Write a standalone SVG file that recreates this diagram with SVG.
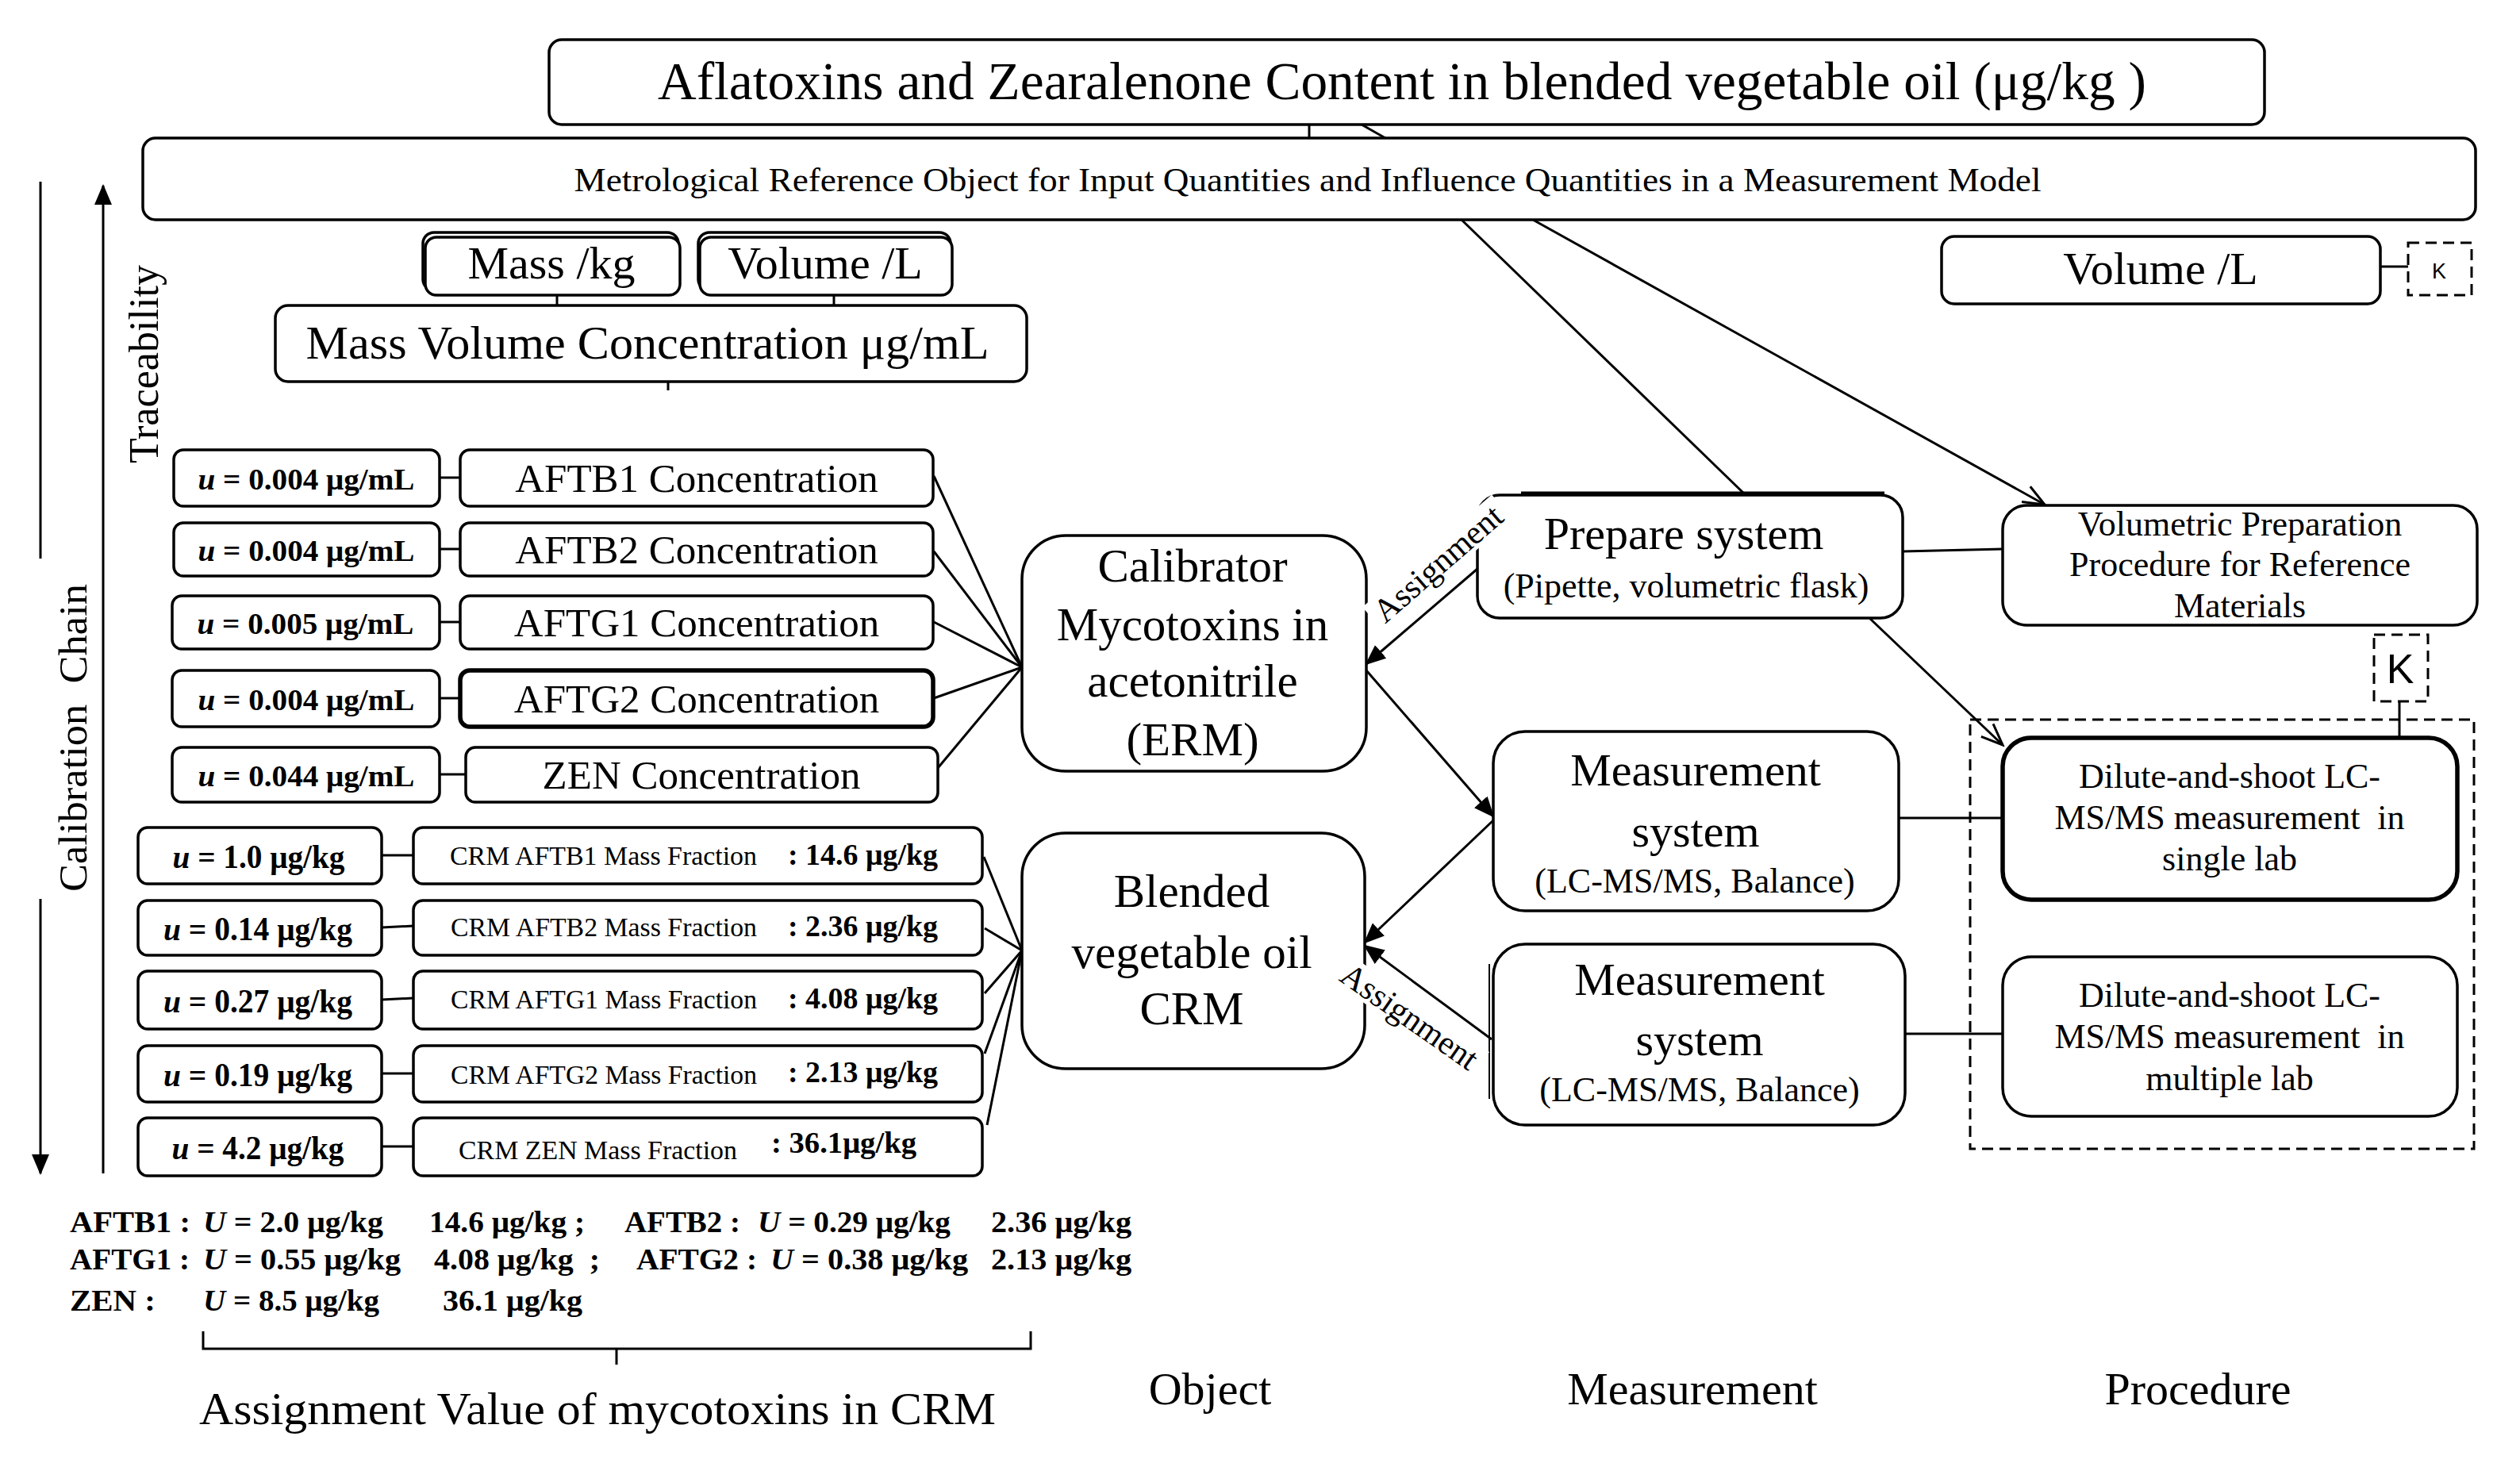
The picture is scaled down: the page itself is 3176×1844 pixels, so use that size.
<svg xmlns="http://www.w3.org/2000/svg" width="3176" height="1844" viewBox="0 0 3176 1844">
<style>
text{font-family:"Liberation Serif","Times New Roman",serif;fill:#000}
.box{fill:#fff;stroke:#000;stroke-width:3.5}
.thick{stroke-width:5.5}
.ln{stroke:#000;stroke-width:3;fill:none}
.dash{fill:none;stroke:#000;stroke-width:3;stroke-dasharray:14 8}
.b{font-weight:bold}
.i{font-style:italic}
.sans{font-family:"Liberation Sans",Arial,sans-serif}
.m{text-anchor:middle}
.bg{fill:#fff;stroke:none}
</style>
<defs>
<marker id="af" markerUnits="userSpaceOnUse" markerWidth="26" markerHeight="22" refX="24" refY="11" orient="auto"><path d="M0,0 L26,11 L0,22 z" fill="#000"/></marker>
<marker id="ao" markerUnits="userSpaceOnUse" markerWidth="32" markerHeight="26" refX="29" refY="13" orient="auto"><path d="M2,2 L29,13 L2,24" fill="none" stroke="#000" stroke-width="3"/></marker>
</defs>
<rect width="3176" height="1844" fill="#fff"/>

<g id="connectors">
<line class="ln" x1="1650" y1="157" x2="1650" y2="174" stroke-width="2"/>
<line class="ln" x1="1716" y1="157" x2="1746" y2="174" stroke-width="5"/>
<line class="ln" x1="702" y1="372" x2="702" y2="385" stroke-width="2"/>
<line class="ln" x1="1051" y1="372" x2="1051" y2="385" stroke-width="2"/>
<line class="ln" x1="842" y1="481" x2="842" y2="492" stroke-width="2"/>
<line class="ln" x1="1842" y1="277" x2="2198" y2="622"/>
<line class="ln" x1="1932" y1="277" x2="2577" y2="636" marker-end="url(#ao)"/>
<line class="ln" x1="3000" y1="336" x2="3035" y2="336" stroke-width="5"/>
<line class="ln" x1="554" y1="602" x2="580" y2="602"/>
<line class="ln" x1="554" y1="692" x2="580" y2="692" stroke="#4472C4"/>
<line class="ln" x1="554" y1="784" x2="580" y2="784"/>
<line class="ln" x1="554" y1="880" x2="580" y2="880"/>
<line class="ln" x1="554" y1="976" x2="587" y2="976"/>
<line class="ln" x1="481" y1="1078" x2="521" y2="1078"/>
<line class="ln" x1="481" y1="1169" x2="521" y2="1167"/>
<line class="ln" x1="481" y1="1260" x2="521" y2="1258"/>
<line class="ln" x1="481" y1="1353" x2="521" y2="1353"/>
<line class="ln" x1="481" y1="1445" x2="521" y2="1445"/>
<line class="ln" x1="1177" y1="600" x2="1288" y2="841"/>
<line class="ln" x1="1177" y1="695" x2="1288" y2="841"/>
<line class="ln" x1="1177" y1="784" x2="1288" y2="841"/>
<line class="ln" x1="1177" y1="880" x2="1288" y2="841"/>
<line class="ln" x1="1182" y1="968" x2="1288" y2="841"/>
<line class="ln" x1="1240" y1="1080" x2="1288" y2="1198"/>
<line class="ln" x1="1241" y1="1170" x2="1288" y2="1198"/>
<line class="ln" x1="1241" y1="1252" x2="1288" y2="1198"/>
<line class="ln" x1="1241" y1="1328" x2="1288" y2="1198"/>
<line class="ln" x1="1244" y1="1418" x2="1288" y2="1198"/>
<line class="ln" x1="1862" y1="717" x2="1722" y2="837" marker-end="url(#af)"/>
<line class="ln" x1="1722" y1="845" x2="1882" y2="1029" marker-end="url(#af)"/>
<line class="ln" x1="1882" y1="1034" x2="1720" y2="1188" marker-end="url(#af)"/>
<line class="ln" x1="1880" y1="1310" x2="1720" y2="1192" marker-end="url(#af)"/>
<line class="ln" x1="2398" y1="695" x2="2524" y2="692"/>
<line class="ln" x1="2355" y1="778" x2="2524" y2="939" marker-end="url(#ao)"/>
<line class="ln" x1="2393" y1="1031" x2="2524" y2="1031"/>
<line class="ln" x1="2401" y1="1303" x2="2524" y2="1303"/>
<line class="ln" x1="3024" y1="884" x2="3024" y2="930"/>
<line class="ln" x1="51" y1="229" x2="51" y2="704" stroke-width="3.5"/>
<line class="ln" x1="51" y1="1133" x2="51" y2="1479" stroke-width="3.5" marker-end="url(#af)"/>
<line class="ln" x1="130" y1="1479" x2="130" y2="234" stroke-width="3.5" marker-end="url(#af)"/>
</g>

<g id="axis-labels">
<text transform="translate(109,930) rotate(-90)" font-size="51" class="m" textLength="388" lengthAdjust="spacingAndGlyphs">Calibration&#160; Chain</text>
<text transform="translate(199,459) rotate(-90)" font-size="52" class="m" textLength="250" lengthAdjust="spacingAndGlyphs">Traceability</text>
</g>

<g id="title">
<rect class="box" x="692" y="50" width="2162" height="107" rx="16" stroke-width="4.5"/>
<text x="1767" y="125" font-size="67" class="m" textLength="1876" lengthAdjust="spacingAndGlyphs">Aflatoxins and Zearalenone Content in blended vegetable oil (μg/kg )</text>
</g>

<g id="metrological">
<rect class="box" x="180" y="174" width="2940" height="103" rx="16" stroke-width="4.5"/>
<text x="1648" y="241" font-size="42" class="m" textLength="1849" lengthAdjust="spacingAndGlyphs">Metrological Reference Object for Input Quantities and Influence Quantities in a Measurement Model</text>
</g>

<g id="mass">
<rect class="box" x="533" y="293" width="322" height="73" rx="14"/>
<rect class="box" x="536" y="299" width="321" height="73" rx="14"/>
<text x="695" y="351" font-size="58" class="m">Mass /kg</text>
</g>

<g id="volume-left">
<rect class="box" x="880" y="293" width="318" height="73" rx="14"/>
<rect class="box" x="882" y="299" width="318" height="73" rx="14"/>
<text x="1040" y="351" font-size="58" class="m">Volume /L</text>
</g>

<g id="mvc">
<rect class="box" x="347" y="385" width="947" height="96" rx="16"/>
<text x="816" y="452" font-size="59" class="m" textLength="861" lengthAdjust="spacingAndGlyphs">Mass Volume Concentration μg/mL</text>
</g>

<g id="volume-right">
<rect class="box" x="2447" y="298" width="553" height="85" rx="16" stroke-width="4.5"/>
<text x="2723" y="358" font-size="58" class="m">Volume /L</text>
</g>

<g id="k-top">
<rect class="dash" x="3035" y="306" width="80" height="66" stroke-dasharray="8 5"/>
<text x="3074" y="351" font-size="27" class="m sans">K</text>
</g>

<g id="u-aftb1"><rect class="box" x="219" y="567" width="335" height="71" rx="12"/><text class="b m" x="386" y="617" font-size="38" textLength="273" lengthAdjust="spacingAndGlyphs"><tspan class="i">u</tspan> = 0.004 μg/mL</text></g>
<g id="u-aftb2"><rect class="box" x="219" y="659" width="335" height="67" rx="12"/><text class="b m" x="386" y="707" font-size="38" textLength="273" lengthAdjust="spacingAndGlyphs"><tspan class="i">u</tspan> = 0.004 μg/mL</text></g>
<g id="u-aftg1"><rect class="box" x="217" y="751" width="337" height="67" rx="12"/><text class="b m" x="385" y="799" font-size="38" textLength="273" lengthAdjust="spacingAndGlyphs"><tspan class="i">u</tspan> = 0.005 μg/mL</text></g>
<g id="u-aftg2"><rect class="box" x="217" y="845" width="337" height="71" rx="12"/><text class="b m" x="386" y="895" font-size="38" textLength="273" lengthAdjust="spacingAndGlyphs"><tspan class="i">u</tspan> = 0.004 μg/mL</text></g>
<g id="u-zen"><rect class="box" x="217" y="942" width="337" height="69" rx="12"/><text class="b m" x="386" y="991" font-size="38" textLength="273" lengthAdjust="spacingAndGlyphs"><tspan class="i">u</tspan> = 0.044 μg/mL</text></g>

<g id="c-aftb1"><rect class="box" x="580" y="567" width="596" height="71" rx="12"/><text class="m" x="878" y="620" font-size="51">AFTB1 Concentration</text></g>
<g id="c-aftb2"><rect class="box" x="580" y="659" width="596" height="67" rx="12"/><text class="m" x="878" y="710" font-size="51">AFTB2 Concentration</text></g>
<g id="c-aftg1"><rect class="box" x="580" y="751" width="596" height="67" rx="12"/><text class="m" x="878" y="802" font-size="51">AFTG1 Concentration</text></g>
<g id="c-aftg2"><rect class="box thick" x="580" y="845" width="596" height="71" rx="12"/><text class="m" x="878" y="898" font-size="51">AFTG2 Concentration</text></g>
<g id="c-zen"><rect class="box" x="587" y="942" width="595" height="69" rx="12"/><text class="m" x="884" y="994" font-size="51">ZEN Concentration</text></g>

<g id="u-crm-aftb1"><rect class="box" x="174" y="1043" width="307" height="71" rx="12"/><text class="b m" x="326" y="1094" font-size="42" textLength="217" lengthAdjust="spacingAndGlyphs"><tspan class="i">u</tspan> = 1.0 μg/kg</text></g>
<g id="u-crm-aftb2"><rect class="box" x="174" y="1135" width="307" height="69" rx="12"/><text class="b m" x="325" y="1185" font-size="42" textLength="238" lengthAdjust="spacingAndGlyphs"><tspan class="i">u</tspan> = 0.14 μg/kg</text></g>
<g id="u-crm-aftg1"><rect class="box" x="174" y="1224" width="307" height="73" rx="12"/><text class="b m" x="325" y="1276" font-size="42" textLength="238" lengthAdjust="spacingAndGlyphs"><tspan class="i">u</tspan> = 0.27 μg/kg</text></g>
<g id="u-crm-aftg2"><rect class="box" x="174" y="1318" width="307" height="71" rx="12"/><text class="b m" x="325" y="1369" font-size="42" textLength="238" lengthAdjust="spacingAndGlyphs"><tspan class="i">u</tspan> = 0.19 μg/kg</text></g>
<g id="u-crm-zen"><rect class="box" x="174" y="1409" width="307" height="73" rx="12"/><text class="b m" x="325" y="1461" font-size="42" textLength="217" lengthAdjust="spacingAndGlyphs"><tspan class="i">u</tspan> = 4.2 μg/kg</text></g>

<g id="crm-aftb1"><rect class="box" x="521" y="1043" width="717" height="71" rx="12"/><text x="567" y="1090" font-size="33" textLength="387" lengthAdjust="spacingAndGlyphs">CRM AFTB1 Mass Fraction</text><text class="b" x="993" y="1090" font-size="38" textLength="189" lengthAdjust="spacingAndGlyphs">: 14.6 μg/kg</text></g>
<g id="crm-aftb2"><rect class="box" x="521" y="1135" width="717" height="69" rx="12"/><text x="568" y="1180" font-size="33" textLength="386" lengthAdjust="spacingAndGlyphs">CRM AFTB2 Mass Fraction</text><text class="b" x="993" y="1180" font-size="38" textLength="189" lengthAdjust="spacingAndGlyphs">: 2.36 μg/kg</text></g>
<g id="crm-aftg1"><rect class="box" x="521" y="1224" width="717" height="73" rx="12"/><text x="568" y="1271" font-size="33" textLength="386" lengthAdjust="spacingAndGlyphs">CRM AFTG1 Mass Fraction</text><text class="b" x="993" y="1271" font-size="38" textLength="189" lengthAdjust="spacingAndGlyphs">: 4.08 μg/kg</text></g>
<g id="crm-aftg2"><rect class="box" x="521" y="1318" width="717" height="71" rx="12"/><text x="568" y="1366" font-size="33" textLength="386" lengthAdjust="spacingAndGlyphs">CRM AFTG2 Mass Fraction</text><text class="b" x="993" y="1364" font-size="38" textLength="189" lengthAdjust="spacingAndGlyphs">: 2.13 μg/kg</text></g>
<g id="crm-zen"><rect class="box" x="521" y="1409" width="717" height="73" rx="12"/><text x="578" y="1461" font-size="33" textLength="351" lengthAdjust="spacingAndGlyphs">CRM ZEN Mass Fraction</text><text class="b" x="972" y="1453" font-size="38" textLength="183" lengthAdjust="spacingAndGlyphs">: 36.1μg/kg</text></g>

<g id="calibrator">
<rect class="box" x="1288" y="675" width="434" height="297" rx="55"/>
<text class="m" x="1503" y="733" font-size="59">Calibrator</text>
<text class="m" x="1503" y="807" font-size="59">Mycotoxins in</text>
<text class="m" x="1503" y="878" font-size="59">acetonitrile</text>
<text class="m" x="1503" y="952" font-size="59">(ERM)</text>
</g>

<g id="blended">
<rect class="box" x="1288" y="1050" width="432" height="297" rx="55"/>
<text class="m" x="1502" y="1143" font-size="59">Blended</text>
<text class="m" x="1502" y="1220" font-size="59">vegetable oil</text>
<text class="m" x="1502" y="1291" font-size="59">CRM</text>
</g>

<g id="prepare">
<rect class="box" x="1862" y="624" width="536" height="155" rx="28"/>
<line x1="1917" y1="622" x2="2375" y2="622" stroke="#000" stroke-width="5"/>
<text class="m" x="2122" y="692" font-size="58">Prepare system</text>
<text class="m" x="2125" y="753" font-size="44">(Pipette, volumetric flask)</text>
</g>

<g id="measurement-1">
<rect class="box" x="1882" y="922" width="511" height="226" rx="40"/>
<text class="m" x="2137" y="990" font-size="58">Measurement</text>
<text class="m" x="2137" y="1067" font-size="58">system</text>
<text class="m" x="2136" y="1125" font-size="44">(LC-MS/MS, Balance)</text>
</g>

<g id="measurement-2">
<rect class="box" x="1882" y="1190" width="519" height="228" rx="40"/>
<path d="M1877,1215 L1877,1385" fill="none" stroke="#000" stroke-width="2"/>
<text class="m" x="2142" y="1254" font-size="58">Measurement</text>
<text class="m" x="2142" y="1330" font-size="58">system</text>
<text class="m" x="2142" y="1388" font-size="44">(LC-MS/MS, Balance)</text>
</g>

<g id="volumetric">
<rect class="box" x="2524" y="637" width="598" height="151" rx="30"/>
<text class="m" x="2823" y="675" font-size="44">Volumetric Preparation</text>
<text class="m" x="2823" y="726" font-size="44">Procedure for Reference</text>
<text class="m" x="2823" y="778" font-size="44">Materials</text>
</g>

<g id="k-bottom">
<rect class="dash" x="2992" y="800" width="68" height="84" stroke-dasharray="9 5"/>
<text x="3025" y="861" font-size="52" class="m sans">K</text>
</g>

<g id="lab-group">
<rect class="dash" x="2483" y="907" width="635" height="541"/>
</g>

<g id="dilute-single">
<rect class="box thick" x="2524" y="930" width="573" height="204" rx="36"/>
<text class="m" x="2810" y="993" font-size="44">Dilute-and-shoot LC-</text>
<text class="m" x="2810" y="1045" font-size="44">MS/MS measurement&#160; in</text>
<text class="m" x="2810" y="1097" font-size="44">single lab</text>
</g>

<g id="dilute-multiple">
<rect class="box" x="2524" y="1206" width="573" height="201" rx="36" stroke-width="4.5"/>
<text class="m" x="2810" y="1269" font-size="44">Dilute-and-shoot LC-</text>
<text class="m" x="2810" y="1321" font-size="44">MS/MS measurement&#160; in</text>
<text class="m" x="2810" y="1374" font-size="44">multiple lab</text>
</g>

<g id="connector-labels">
<g transform="translate(1813,711) rotate(-41)">
<rect class="bg" x="-108" y="-22" width="216" height="40"/>
<text y="13" font-size="42" class="m">Assignment</text>
</g>
<g transform="translate(1776,1282) rotate(35)">
<rect class="bg" x="-108" y="-22" width="216" height="40"/>
<text y="13" font-size="42" class="m">Assignment</text>
</g>
</g>

<g id="assigned-values">
<text class="b" x="88" y="1553" font-size="37" textLength="152" lengthAdjust="spacingAndGlyphs">AFTB1 :</text>
<text class="b" x="256" y="1553" font-size="37" textLength="227" lengthAdjust="spacingAndGlyphs"><tspan class="i">U</tspan> = 2.0 μg/kg</text>
<text class="b" x="541" y="1553" font-size="37" textLength="196" lengthAdjust="spacingAndGlyphs">14.6 μg/kg ;</text>
<text class="b" x="787" y="1553" font-size="37" textLength="146" lengthAdjust="spacingAndGlyphs">AFTB2 :</text>
<text class="b" x="955" y="1553" font-size="37" textLength="243" lengthAdjust="spacingAndGlyphs"><tspan class="i">U</tspan> = 0.29 μg/kg</text>
<text class="b" x="1249" y="1553" font-size="37" textLength="177" lengthAdjust="spacingAndGlyphs">2.36 μg/kg</text>
<text class="b" x="88" y="1600" font-size="37" textLength="151" lengthAdjust="spacingAndGlyphs">AFTG1 :</text>
<text class="b" x="256" y="1600" font-size="37" textLength="249" lengthAdjust="spacingAndGlyphs"><tspan class="i">U</tspan> = 0.55 μg/kg</text>
<text class="b" x="547" y="1600" font-size="37" textLength="209" lengthAdjust="spacingAndGlyphs">4.08 μg/kg&#160; ;</text>
<text class="b" x="802" y="1600" font-size="37" textLength="152" lengthAdjust="spacingAndGlyphs">AFTG2 :</text>
<text class="b" x="971" y="1600" font-size="37" textLength="249" lengthAdjust="spacingAndGlyphs"><tspan class="i">U</tspan> = 0.38 μg/kg</text>
<text class="b" x="1249" y="1600" font-size="37" textLength="177" lengthAdjust="spacingAndGlyphs">2.13 μg/kg</text>
<text class="b" x="88" y="1652" font-size="37" textLength="108" lengthAdjust="spacingAndGlyphs">ZEN :</text>
<text class="b" x="256" y="1652" font-size="37" textLength="222" lengthAdjust="spacingAndGlyphs"><tspan class="i">U</tspan> = 8.5 μg/kg</text>
<text class="b" x="558" y="1652" font-size="37" textLength="176" lengthAdjust="spacingAndGlyphs">36.1 μg/kg</text>
<path d="M256,1678 L256,1700 L1299,1700 L1299,1678 M777,1700 L777,1720" fill="none" stroke="#000" stroke-width="3"/>
<text class="m" x="753" y="1795" font-size="58" textLength="1004" lengthAdjust="spacingAndGlyphs">Assignment Value of mycotoxins in CRM</text>
</g>

<g id="column-labels">
<text class="m" x="1525" y="1770" font-size="58">Object</text>
<text class="m" x="2133" y="1770" font-size="58">Measurement</text>
<text class="m" x="2770" y="1770" font-size="58">Procedure</text>
</g>
</svg>
